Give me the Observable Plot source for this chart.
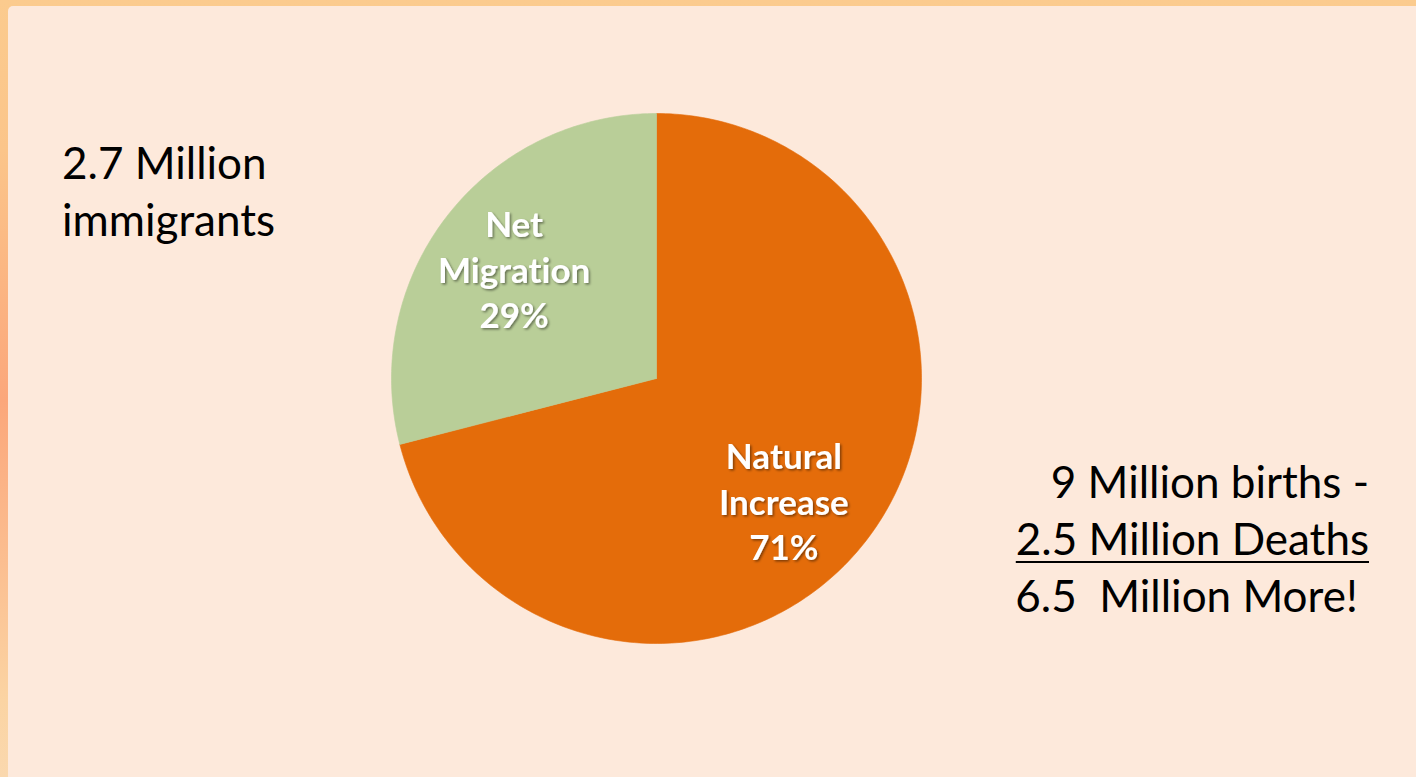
<!DOCTYPE html>
<html><head><meta charset="utf-8">
<script src="https://cdn.jsdelivr.net/npm/d3@7"></script>
<script src="https://cdn.jsdelivr.net/npm/@observablehq/plot@0.6"></script>
<style>
html,body{margin:0;padding:0;width:1416px;height:777px;overflow:hidden;}
body{position:relative;font-family:Lato,sans-serif;
 background:linear-gradient(to bottom,#FBCB8E 0px,#FBC58A 150px,#FBA77B 400px,#FBBE90 560px,#FBD4A3 700px,#FAD8AE 777px);}
#panel{position:absolute;left:8px;top:6px;right:0;bottom:0;background:#FDE9DB;border-top-left-radius:5px;}
#chart{position:absolute;left:0;top:0;}
#chart svg text{font-variant-ligatures:none;}
.note{position:absolute;font-family:Lato,sans-serif;font-size:44px;line-height:57px;color:#000;white-space:pre;font-variant-ligatures:none;}
#noteLeft{left:62px;top:134px;}
#noteRight{right:47px;top:453px;text-align:right;}
#noteRight u{text-decoration-thickness:2px;text-underline-offset:6px;}
</style></head>
<body>
<div id="panel"></div>
<div id="chart"></div>
<div class="note" id="noteLeft"></div>
<div class="note" id="noteRight"></div>
<script>
// ---- data ----
const categories = ["Natural Increase", "Net Migration"];
const shares = [71, 29];
const leftNote = ["2.7 Million", "immigrants"];
const rightNote = ["9 Million births -", "2.5 Million Deaths", "6.5  Million More! "];

// ---- styles ----
const sliceColors = ["#E46C0A", "#B9CE98"];
const labelNudge = {"Natural Increase": [-15, 11], "Net Migration": [0, 0]};

const rows = categories.map((name, i) => ({name, share: shares[i]}));
const arcs = d3.pie().sort(null).value(d => d.share)(rows);

const outline = arcs.flatMap(p => {
  const pts = [{name: p.data.name, x: 0, y: 0}];
  const steps = Math.max(4, Math.ceil((p.endAngle - p.startAngle) / (2 * Math.PI) * 360));
  for (let i = 0; i <= steps; i++) {
    const a = p.startAngle + (p.endAngle - p.startAngle) * i / steps;
    pts.push({name: p.data.name, x: Math.sin(a), y: Math.cos(a)});
  }
  pts.push({name: p.data.name, x: 0, y: 0});
  return pts;
});

const labelRows = arcs.map(p => {
  const mid = (p.startAngle + p.endAngle) / 2;
  return {
    name: p.data.name,
    x: 0.68 * Math.sin(mid),
    y: 0.68 * Math.cos(mid),
    label: p.data.name.split(" ").join("\n") + "\n" + p.data.share + "%"
  };
});

const plot = Plot.plot({
  width: 1416, height: 777,
  marginLeft: 391, marginRight: 495, marginTop: 113, marginBottom: 134,
  x: {domain: [-1, 1], axis: null},
  y: {domain: [-1, 1], axis: null},
  color: {domain: categories, range: sliceColors},
  style: {background: "transparent", overflow: "visible"},
  marks: [
    Plot.line(outline, {x: "x", y: "y", z: "name", fill: "name", stroke: "name", strokeWidth: 0.6}),
    ...labelRows.map(r => Plot.text([r], {x: "x", y: "y", text: "label", fill: "white", fontSize: 35,
      fontWeight: "bold", lineHeight: 1.3, fontFamily: "Lato, sans-serif",
      dx: labelNudge[r.name][0], dy: labelNudge[r.name][1]}))
  ]
});

const svg = d3.select(plot);
const f = svg.append("defs").append("filter").attr("id", "shadow")
  .attr("x", "-20%").attr("y", "-20%").attr("width", "140%").attr("height", "140%");
f.append("feDropShadow").attr("dx", 1.5).attr("dy", 1.5).attr("stdDeviation", 1.2)
  .attr("flood-color", "#000").attr("flood-opacity", 0.45);
svg.selectAll('g[aria-label="text"]').attr("filter", "url(#shadow)");

document.getElementById("chart").appendChild(plot);

document.getElementById("noteLeft").textContent = leftNote.join("\n");
const nr = document.getElementById("noteRight");
rightNote.forEach((line, i) => {
  const el = document.createElement(i === 1 ? "u" : "span");
  el.textContent = line;
  nr.appendChild(el);
  if (i < rightNote.length - 1) nr.appendChild(document.createTextNode("\n"));
});
</script>
</body></html>
